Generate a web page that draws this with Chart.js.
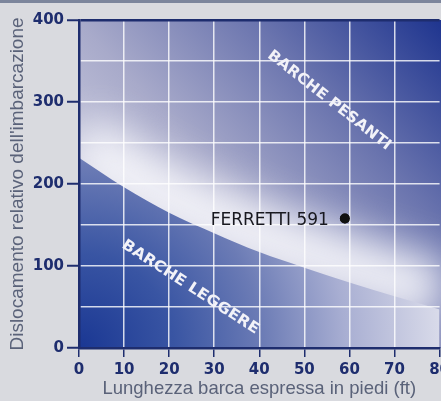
<!DOCTYPE html>
<html>
<head>
<meta charset="utf-8">
<script src="https://cdn.jsdelivr.net/npm/chart.js@4.4.1/dist/chart.umd.min.js"></script>
<style>
  html, body { margin: 0; padding: 0; overflow: hidden; background: #d9dadf; }
  body { width: 441px; height: 401px; position: relative; }
  #strip { position: absolute; left: 0; top: 0; width: 441px; height: 3px; background: #7c859c; }
  #wrap { position: absolute; left: 0; top: 0; width: 454px; height: 401px; }
</style>
</head>
<body>
<div id="strip"></div>
<div id="wrap"><canvas id="chart"></canvas></div>
<script>
// data
const lengthsFt = [0, 10, 20, 30, 40, 50, 60, 70, 80];
const boundary = [232, 196, 165, 140, 117, 98, 80, 63, 47];
const boatX = [59];
const boatY = [158];
const boatNames = ['FERRETTI 591'];
const zoneNames = ['BARCHE PESANTI', 'BARCHE LEGGERE'];
const xTitle = 'Lunghezza barca espressa in piedi (ft)';
const yTitle = "Dislocamento relativo dell'imbarcazione";

const NAVY = '#1e2d6e';
const GRID = 'rgba(255,255,255,0.8)';

// where the zone captions sit (value coords) and how they are drawn
const zoneStyle = [
  { x: 55.5, y: 302, angle: 38, width: 152 },
  { x: 24.7, y: 74, angle: 33, width: 160 },
];

const background = {
  id: 'background',
  beforeDatasetsDraw(chart) {
    const { ctx, chartArea: a } = chart;
    ctx.save();
    ctx.beginPath();
    ctx.rect(a.left, a.top, chart.width - a.left, a.bottom - a.top);
    ctx.clip();
    const g = ctx.createLinearGradient(a.left, a.bottom, a.right, a.top);
    g.addColorStop(0, '#e8e8f0');
    g.addColorStop(0.45, '#a8aaca');
    g.addColorStop(0.72, '#6a74ae');
    g.addColorStop(1, '#1f358f');
    ctx.fillStyle = g;
    ctx.fillRect(a.left, a.top, chart.width - a.left, a.bottom - a.top);
    // soft light band just above the boundary line
    const line = chart.getDatasetMeta(0).dataset;
    line.updateControlPoints(a, 'x');
    ctx.filter = 'blur(20px)';
    ctx.translate(0, -16);
    ctx.beginPath();
    line.path(ctx);
    ctx.lineWidth = 62;
    ctx.strokeStyle = 'rgba(248,248,252,0.9)';
    ctx.stroke();
    ctx.restore();
  },
  afterDraw(chart) {
    const { ctx } = chart;
    const xs = chart.scales.x, ys = chart.scales.y;
    ctx.save();
    // zone captions
    ctx.fillStyle = '#f2f2f8';
    ctx.font = 'bold 15px "DejaVu Sans Condensed", "DejaVu Sans"';
    ctx.textAlign = 'center';
    ctx.textBaseline = 'middle';
    zoneNames.forEach((t, i) => {
      const s = zoneStyle[i];
      ctx.save();
      ctx.translate(xs.getPixelForValue(s.x), ys.getPixelForValue(s.y));
      ctx.rotate(s.angle * Math.PI / 180);
      ctx.scale(s.width / ctx.measureText(t).width, 1);
      ctx.fillText(t, 0, 0);
      ctx.restore();
    });
    // boat marker on top of grid + its name
    const meta = chart.getDatasetMeta(1);
    meta.data.forEach((el, i) => {
      el.draw(ctx);
      ctx.fillStyle = '#18181f';
      ctx.font = '17px "DejaVu Sans"';
      ctx.textAlign = 'right';
      ctx.fillText(boatNames[i], el.x - 16, el.y + 2);
    });
    ctx.restore();
  }
};

function lowerFill(c) {
  const { ctx, chartArea: a } = c.chart;
  if (!a) return null;
  const g = ctx.createRadialGradient(a.left, a.bottom, 0, a.left, a.bottom, 380);
  g.addColorStop(0, '#1a3793');
  g.addColorStop(0.25, '#3955a3');
  g.addColorStop(0.48, '#6b7bb5');
  g.addColorStop(0.7, '#a8aed2');
  g.addColorStop(1, '#e2e3ee');
  return g;
}

new Chart(document.getElementById('chart'), {
  type: 'line',
  data: {
    datasets: [
      {
        data: lengthsFt.map((x, i) => ({ x, y: boundary[i] })),
        borderColor: 'rgba(0,0,0,0)',
        borderWidth: 0,
        backgroundColor: lowerFill,
        fill: 'start',
        tension: 0.4,
        cubicInterpolationMode: 'monotone',
        pointRadius: 0,
      },
      {
        data: boatX.map((x, i) => ({ x, y: boatY[i] })),
        showLine: false,
        pointRadius: 5,
        pointBackgroundColor: '#111',
        pointBorderColor: '#111',
        pointBorderWidth: 0,
      },
    ],
  },
  options: {
    responsive: true,
    maintainAspectRatio: false,
    animation: false,
    layout: { padding: { top: 20, left: 0, right: 0, bottom: 0 } },
    plugins: { legend: { display: false }, tooltip: { enabled: false } },
    scales: {
      x: {
        type: 'linear',
        min: 0,
        max: 80,
        afterFit: (s) => { s.height = 53; },
        ticks: {
          stepSize: 10,
          color: NAVY,
          padding: 4,
          maxRotation: 0,
          font: { family: 'DejaVu Sans', weight: 'bold', size: 15 },
        },
        grid: {
          z: 1,
          color: (c) => (c.tick && (c.tick.value === 0 || c.tick.value === 80)) ? 'rgba(0,0,0,0)' : GRID,
          lineWidth: 1.5,
          tickColor: NAVY,
          tickLength: 9,
          tickWidth: 1.5,
        },
        border: { display: true, color: NAVY, width: 2.5, z: 2 },
        title: {
          display: true,
          text: xTitle,
          color: '#5a6279',
          padding: { top: 0, bottom: 1 },
          font: { family: 'Liberation Sans', size: 18.5 },
        },
      },
      y: {
        min: 0,
        max: 400,
        afterFit: (s) => { s.width = 79; },
        ticks: {
          stepSize: 50,
          autoSkip: false,
          color: NAVY,
          padding: 3,
          font: { family: 'DejaVu Sans', weight: 'bold', size: 15 },
          callback: (v) => (v % 100 === 0 ? v : ''),
        },
        grid: {
          z: 1,
          color: (c) => {
            const v = c.tick && c.tick.value;
            if (v === 0) return 'rgba(0,0,0,0)';
            if (v === 400) return NAVY;
            return GRID;
          },
          lineWidth: (c) => (c.tick && c.tick.value === 400 ? 2.5 : 1.5),
          tickColor: (c) => (c.tick && c.tick.value % 100 === 0 ? NAVY : 'rgba(0,0,0,0)'),
          tickLength: 12,
          tickWidth: 2,
        },
        border: { display: true, color: NAVY, width: 2.5, z: 2 },
        title: {
          display: true,
          text: yTitle,
          color: '#5a6279',
          padding: { top: 6, bottom: 0 },
          font: { family: 'Liberation Sans', size: 19 },
        },
      },
    },
  },
  plugins: [background],
});
</script>
</body>
</html>
